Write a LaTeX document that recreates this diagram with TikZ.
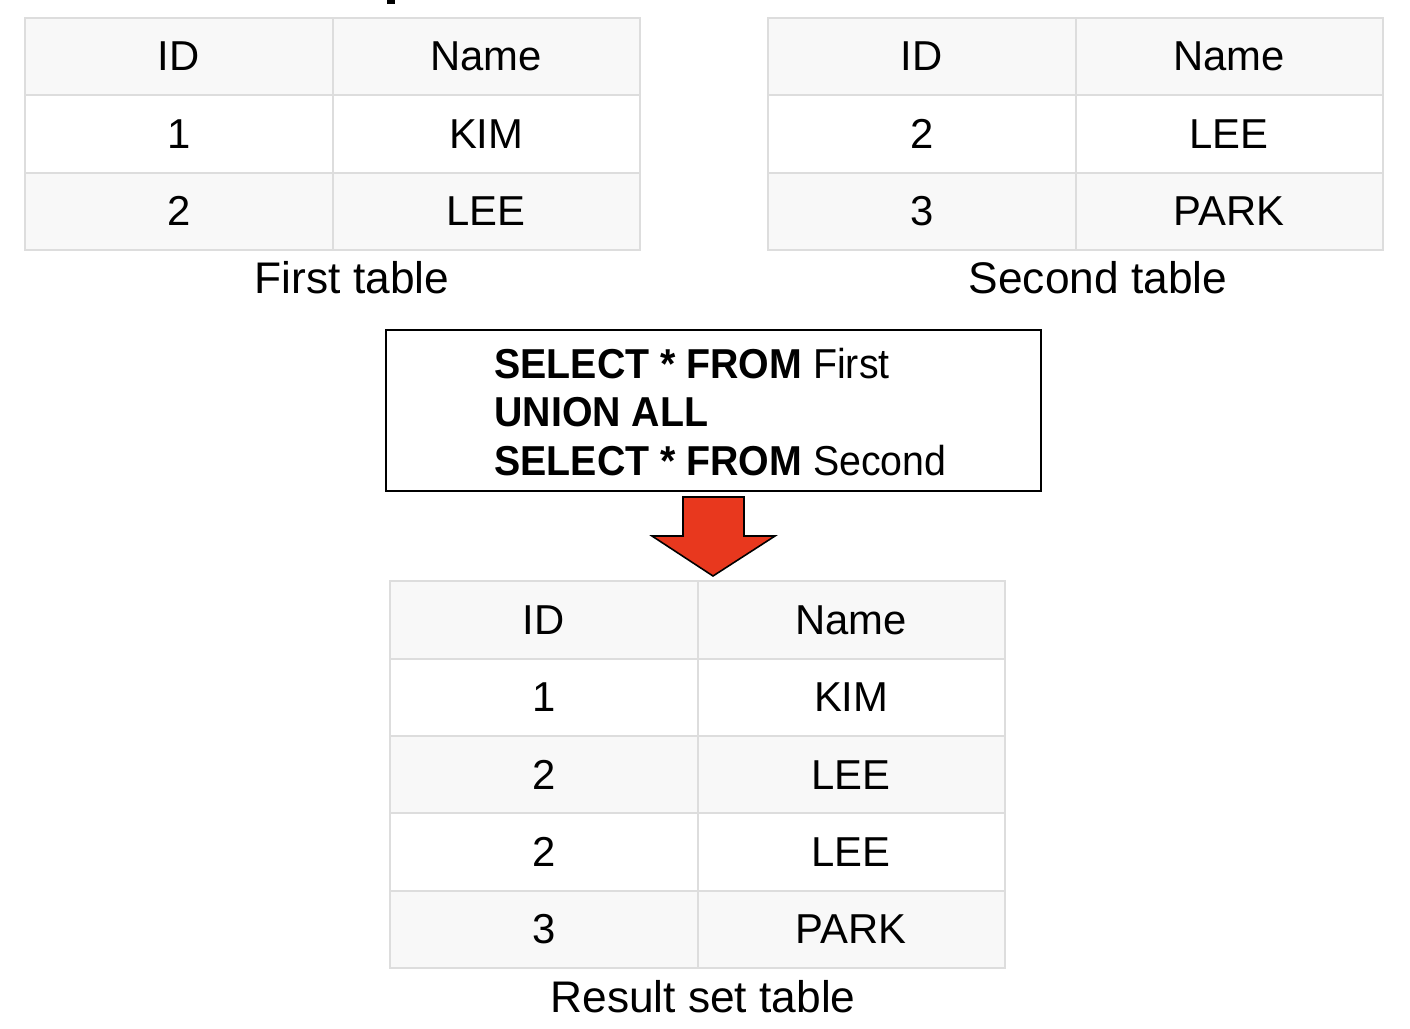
\documentclass[tikz,border=0pt]{standalone}
\usepackage{fontspec}
\setmainfont{Liberation Sans}
\usepackage{graphicx}
\definecolor{hdrgray}{RGB}{248,248,248}
\definecolor{gridgray}{RGB}{221,221,221}
\definecolor{arrowred}{RGB}{232,56,30}
\tikzset{
  cell/.style={draw=gridgray, line width=1.1pt, minimum width=6.15cm, minimum height=1.547cm,
    inner sep=0pt, font=\fontsize{23.8pt}{28pt}\selectfont},
  captxt/.style={anchor=base, inner sep=0pt, font=\fontsize{25.2pt}{29pt}\selectfont},
  sqlbox/.style={draw=black, line width=1pt, minimum width=13.1cm, minimum height=3.22cm, inner sep=0pt},
  blockarrow/.style={draw=black, line width=0.9pt, fill=arrowred, line join=miter}
}
\newcommand\datatable[4]{%
  \foreach \a/\b [count=\r from 0] in {#4} {
    \ifodd\r \def\cellfill{white}\else\def\cellfill{hdrgray}\fi
    \node[cell, fill=\cellfill] (#1-\r-1) at ({#2+153.75},{#3+38.0+77.35*\r}) {\a};
    \node[cell, fill=\cellfill] (#1-\r-2) at ({#2+461.25},{#3+38.0+77.35*\r}) {\b};
  }%
}
\begin{document}
\begin{tikzpicture}[x=0.02cm, y=-0.02cm]
\useasboundingbox (0,0) rectangle (1410,1028);
% clipped fragment of a title at the top edge
\fill (387,0) rectangle (395,4);
% first and second tables
\datatable{first}{25}{18.5}{ID/Name,1/KIM,2/LEE}
\datatable{second}{768}{18.5}{ID/Name,2/LEE,3/PARK}
\node[captxt] (firstcap) at (352,293) {First table};
\node[captxt] (secondcap) at (1098,293) {Second table};
% SQL box
\node[sqlbox] (sql) at (713.5,410.5) {};
\node[anchor=base west, inner sep=0pt, font=\fontsize{23.8pt}{27.8pt}\selectfont] (sqltext) at (494,378)
  {\scalebox{0.94}[1]{\begin{tabular}[t]{@{}l@{}}
    \textbf{SELECT * FROM} First\\
    \textbf{UNION ALL}\\
    \textbf{SELECT * FROM} Second
  \end{tabular}}};
% block arrow
\draw[blockarrow] (683,497) -- (744,497) -- (744,536) -- (775,536) -- (713,576)
  -- (652,536) -- (683,536) -- cycle;
% result table
\datatable{result}{390}{582}{ID/Name,1/KIM,2/LEE,2/LEE,3/PARK}
\node[captxt] (resultcap) at (703,1012) {Result set table};
\end{tikzpicture}
\end{document}
